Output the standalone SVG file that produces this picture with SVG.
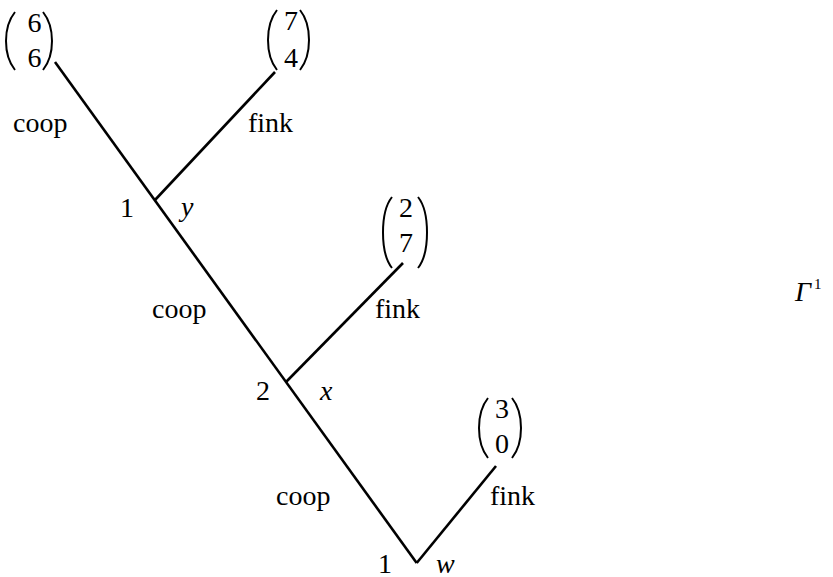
<svg xmlns="http://www.w3.org/2000/svg" width="833" height="577" viewBox="0 0 833 577">
<style>
.t{font-family:"Liberation Serif","Times New Roman",serif;font-size:28px;fill:#000}
.i{font-style:italic}
.m{text-anchor:middle}
.e{fill:none;stroke:#000;stroke-width:2.6;stroke-linecap:butt}
.p{fill:none;stroke:#000;stroke-width:2}
</style>
<rect width="833" height="577" fill="#fff"/>
<g id="connectors">
<path class="e" d="M55,62 L416.7,563"/>
<path class="e" d="M155,200 L275,72"/>
<path class="e" d="M286,382 L403,263"/>
<path class="e" d="M416.7,563 L496,466"/>
</g>
<g id="payoff-6-6">
<path class="p" d="M15,12 C3,27 3,55 15,70"/>
<path class="p" d="M43,12 C55,27 55,55 43,70"/>
<text class="t m" x="34.5" y="32">6</text>
<text class="t m" x="34.5" y="67">6</text>
</g>
<g id="payoff-7-4">
<path class="p" d="M277,10 C265,25 265,55 277,70"/>
<path class="p" d="M300,10 C312,25 312,55 300,70"/>
<text class="t m" x="291" y="30">7</text>
<text class="t m" x="291" y="67">4</text>
</g>
<g id="payoff-2-7">
<path class="p" d="M392,197 C380,212 380,253 392,268"/>
<path class="p" d="M418,197 C430,212 430,253 418,268"/>
<text class="t m" x="406" y="217">2</text>
<text class="t m" x="406" y="252">7</text>
</g>
<g id="payoff-3-0">
<path class="p" d="M488,398 C476,413 476,443 488,458"/>
<path class="p" d="M512,398 C524,413 524,443 512,458"/>
<text class="t m" x="502" y="418">3</text>
<text class="t m" x="502" y="453">0</text>
</g>
<g id="node-y">
<text class="t m" x="127" y="217">1</text>
<text class="t i" x="181" y="216">y</text>
</g>
<g id="node-x">
<text class="t m" x="263" y="400">2</text>
<text class="t i" x="320" y="400">x</text>
</g>
<g id="node-w">
<text class="t m" x="385" y="573">1</text>
<text class="t i" x="436" y="573">w</text>
</g>
<g id="labels">
<text class="t" x="13" y="132">coop</text>
<text class="t" x="248" y="132">fink</text>
<text class="t" x="152" y="318">coop</text>
<text class="t" x="375" y="318">fink</text>
<text class="t" x="276" y="505">coop</text>
<text class="t" x="490" y="505">fink</text>
</g>
<g id="title">
<text class="t i" x="795" y="301">Γ</text>
<text class="t" x="814" y="289" style="font-size:15px">1</text>
</g>
</svg>
